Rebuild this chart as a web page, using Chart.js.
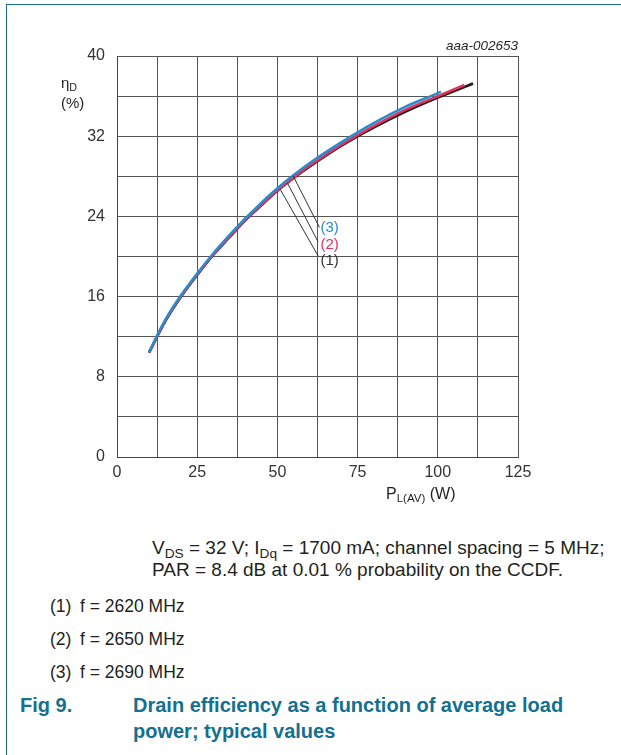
<!DOCTYPE html>
<html>
<head>
<meta charset="utf-8">
<script src="https://cdn.jsdelivr.net/npm/chart.js@4.4.0/dist/chart.umd.min.js"></script>
<style>
  html, body { margin: 0; padding: 0; background: #fff; }
  body { width: 621px; height: 755px; position: relative; overflow: hidden; font-family: "Liberation Sans", Arial, sans-serif; color: #231f20; }
  #frame { position: absolute; left: 6px; top: 4px; width: 620px; height: 760px; border-left: 1px solid #1a6e8c; border-top: 1px solid #1a6e8c; }
  #wrap { position: absolute; left: 0; top: 0; width: 621px; height: 520px; }
  .t { position: absolute; white-space: nowrap; line-height: 1; }
  sub { font-size: 72%; vertical-align: -0.3em; line-height: 0; }
  .cap { font-size: 19px; }
  .lst { font-size: 17.5px; }
  .fig { color: #14708e; font-weight: bold; font-size: 20px; }
</style>
</head>
<body>
<div id="frame"></div>
<div id="wrap"><canvas id="c" width="621" height="520"></canvas></div>
<div class="t" style="left:61px; top:75px; font-size:15px;">η<sub>D</sub></div>
<div class="t" style="left:61px; top:95px; font-size:15px;">(%)</div>
<div class="t" style="left:386px; top:486px; font-size:16px;">P<sub>L(AV)</sub> (W)</div>
<div class="t" style="left:436px; top:39px; font-size:13.5px; font-style:italic; width:82px; text-align:right;">aaa-002653</div>
<div class="t cap" style="left:152px; top:538px;">V<sub>DS</sub> = 32 V; I<sub>Dq</sub> = 1700 mA; channel spacing = 5 MHz;</div>
<div class="t cap" style="left:152px; top:560px;">PAR = 8.4 dB at 0.01 % probability on the CCDF.</div>
<div class="t lst" style="left:50px; top:598px;">(1)</div><div class="t lst" style="left:80px; top:598px;">f = 2620 MHz</div>
<div class="t lst" style="left:50px; top:631px;">(2)</div><div class="t lst" style="left:80px; top:631px;">f = 2650 MHz</div>
<div class="t lst" style="left:50px; top:664px;">(3)</div><div class="t lst" style="left:80px; top:664px;">f = 2690 MHz</div>
<div class="t fig" style="left:20px; top:695px;">Fig 9.</div>
<div class="t fig" style="left:133px; top:695px;">Drain efficiency as a function of average load</div>
<div class="t fig" style="left:133px; top:721px;">power; typical values</div>
<script>
// Series data
const powerW_1 = [10, 15, 20, 25, 30, 35, 40, 45, 50, 55, 60, 70, 80, 90, 100, 111];
const eff_1    = [10.4, 13.5, 16.0, 18.15, 20.15, 21.9, 23.6, 25.1, 26.55, 27.8, 28.95, 31.05, 32.85, 34.45, 35.85, 37.25];
const powerW_2 = [10, 15, 20, 25, 30, 35, 40, 45, 50, 55, 60, 70, 80, 90, 100, 108.3];
const eff_2    = [10.4, 13.55, 16.05, 18.2, 20.2, 21.95, 23.65, 25.15, 26.6, 27.85, 29.05, 31.15, 33.0, 34.65, 36.0, 37.1];
const powerW_3 = [10, 15, 20, 25, 30, 35, 40, 45, 50, 55, 60, 70, 80, 90, 100, 101];
const eff_3    = [10.5, 13.65, 16.15, 18.3, 20.3, 22.1, 23.8, 25.35, 26.8, 28.1, 29.3, 31.4, 33.3, 34.95, 36.3, 36.45];

const seriesLabels = ['(1)', '(2)', '(3)'];
const seriesColors = ['#231f20', '#e3335c', '#2a8ccc'];

// Axis ticks
const xTicks = [0, 25, 50, 75, 100, 125];
const yTicks = [0, 8, 16, 24, 32, 40];

// Callout leaders (data units): from curve point to label
const leaderFrom = [[50.8, 26.75], [53.1, 27.35], [54.9, 28.05]];
const leaderTo   = [[62.7, 20.05], [62.7, 21.45], [63.1, 22.9]];
const labelAt    = [[63.4, 19.6], [63.4, 21.2], [63.4, 22.85]];

function pts(xs, ys) { return xs.map((x, i) => ({ x: x, y: ys[i] })); }

const calloutPlugin = {
  id: 'callouts',
  afterDatasetsDraw(chart) {
    const ctx = chart.ctx, xs = chart.scales.x, ys = chart.scales.y;
    ctx.save();
    ctx.strokeStyle = '#333';
    ctx.lineWidth = 1;
    for (let i = 0; i < leaderFrom.length; i++) {
      ctx.beginPath();
      ctx.moveTo(xs.getPixelForValue(leaderFrom[i][0]), ys.getPixelForValue(leaderFrom[i][1]));
      ctx.lineTo(xs.getPixelForValue(leaderTo[i][0]), ys.getPixelForValue(leaderTo[i][1]));
      ctx.stroke();
    }
    ctx.font = '15px "Liberation Sans", Arial, sans-serif';
    ctx.textBaseline = 'middle';
    ctx.textAlign = 'left';
    for (let i = 0; i < labelAt.length; i++) {
      ctx.fillStyle = i === 0 ? '#333' : seriesColors[i];
      ctx.fillText(seriesLabels[i], xs.getPixelForValue(labelAt[i][0]), ys.getPixelForValue(labelAt[i][1]));
    }
    ctx.restore();
  }
};

const ds = (label, data, color, order) => ({
  label, data, borderColor: color, backgroundColor: color, borderWidth: 2.6,
  pointRadius: 0, fill: false, cubicInterpolationMode: 'monotone', order
});

new Chart(document.getElementById('c'), {
  type: 'line',
  data: {
    datasets: [
      ds('(3) f = 2690 MHz', pts(powerW_3, eff_3), seriesColors[2], 1),
      ds('(2) f = 2650 MHz', pts(powerW_2, eff_2), seriesColors[1], 2),
      ds('(1) f = 2620 MHz', pts(powerW_1, eff_1), seriesColors[0], 3)
    ]
  },
  options: {
    responsive: false,
    animation: false,
    devicePixelRatio: 1,
    layout: { padding: { left: 0, right: 103, top: 56, bottom: 0 } },
    plugins: { legend: { display: false }, tooltip: { enabled: false } },
    scales: {
      x: {
        type: 'linear', min: 0, max: 125,
        afterFit(s) { s.height = 63; },
        ticks: {
          stepSize: 12.5, padding: 6, color: '#333',
          font: { family: '"Liberation Sans", Arial, sans-serif', size: 16 },
          maxRotation: 0, autoSkip: false,
          callback: v => xTicks.includes(v) ? String(v) : ''
        },
        grid: { color: '#555', lineWidth: 1, drawTicks: false },
        border: { color: '#444', width: 1 }
      },
      y: {
        type: 'linear', min: 0, max: 40,
        afterFit(s) { s.width = 117; },
        ticks: {
          stepSize: 4, padding: 12, color: '#333',
          font: { family: '"Liberation Sans", Arial, sans-serif', size: 16 },
          autoSkip: false,
          callback: v => yTicks.includes(v) ? String(v) : ''
        },
        grid: { color: '#555', lineWidth: 1, drawTicks: false },
        border: { color: '#444', width: 1 }
      }
    }
  },
  plugins: [calloutPlugin]
});
</script>
</body>
</html>
